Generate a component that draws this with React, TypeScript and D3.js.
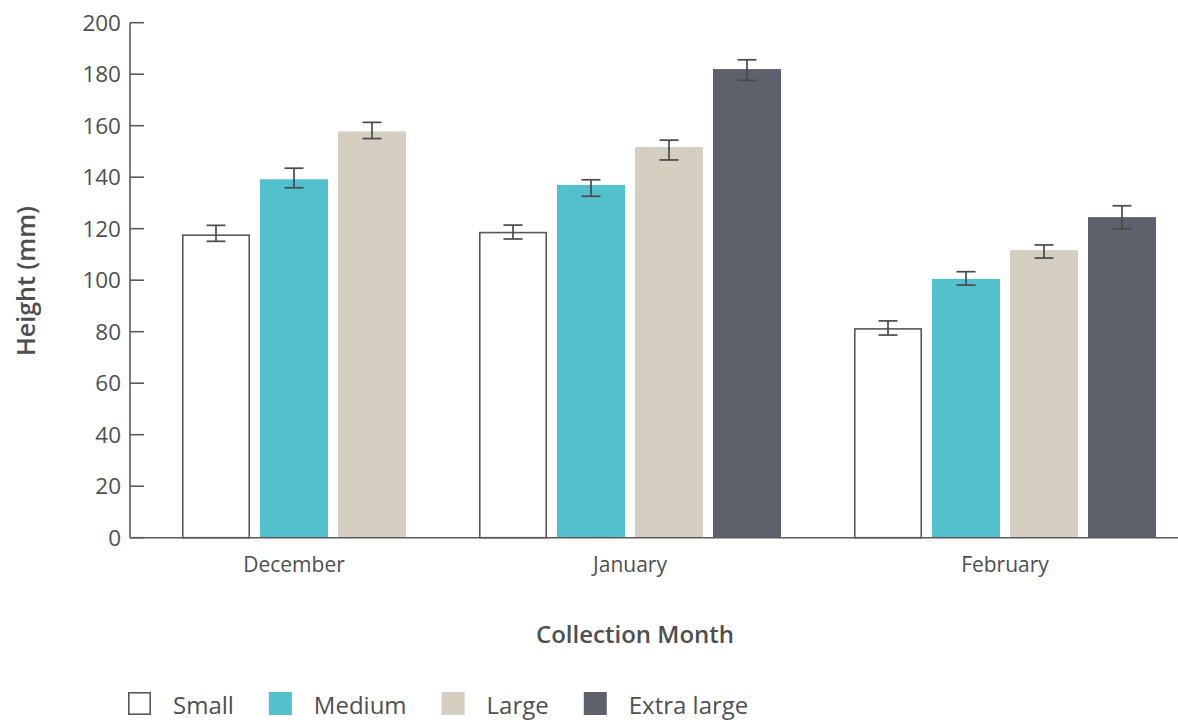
import React, { useEffect, useRef } from "react";
import * as d3 from "d3";

const months = ["December", "January", "February"];
const seriesNames = ["Small", "Medium", "Large", "Extra large"];

const smallValues = [117.8, 118.8, 81.4];
const mediumValues = [139.2, 137.0, 100.5];
const largeValues = [157.8, 151.7, 111.7];
const extraLargeValues: (number | null)[] = [null, 182.0, 124.5];

const smallErrHigh = [121.3, 121.4, 84.2];
const smallErrLow = [115.1, 116.0, 78.7];
const mediumErrHigh = [143.5, 139.0, 103.3];
const mediumErrLow = [135.9, 132.6, 98.1];
const largeErrHigh = [161.3, 154.4, 113.7];
const largeErrLow = [155.0, 146.7, 108.6];
const extraLargeErrHigh: (number | null)[] = [null, 185.6, 128.9];
const extraLargeErrLow: (number | null)[] = [null, 177.6, 120.0];

const yTicks = [0, 20, 40, 60, 80, 100, 120, 140, 160, 180, 200];

const seriesFill = ["#ffffff", "#52C1CD", "#D5CFC2", "#5D616C"];
const seriesStroke = ["#595959", "none", "none", "none"];

const W = 1178;
const H = 722;
const FONT = "'Open Sans', 'Noto Sans', sans-serif";
const TEXT = "#4f4f4f";
const AXIS = "#5a5a5a";

export default function App() {
  const ref = useRef<SVGSVGElement | null>(null);

  useEffect(() => {
    const svg = d3.select(ref.current);
    svg.selectAll("*").remove();

    const values = [smallValues, mediumValues, largeValues, extraLargeValues];
    const highs = [smallErrHigh, mediumErrHigh, largeErrHigh, extraLargeErrHigh];
    const lows = [smallErrLow, mediumErrLow, largeErrLow, extraLargeErrLow];

    // layout: bar step = 1 unit, bar width and group gap in units
    const barW = 68 / 78;
    const groupGap = 73 / 78;
    type Bar = { m: number; s: number; v: number; hi: number; lo: number; pos: number };
    const bars: Bar[] = [];
    const groupSpan: { start: number; end: number }[] = [];
    let pos = 0;
    months.forEach((_, mi) => {
      const start = pos;
      let last = pos;
      seriesNames.forEach((_, si) => {
        const v = values[si][mi];
        if (v == null) return;
        bars.push({ m: mi, s: si, v, hi: highs[si][mi] as number, lo: lows[si][mi] as number, pos });
        last = pos;
        pos += 1;
      });
      groupSpan.push({ start, end: last + barW });
      pos = last + barW + groupGap;
    });
    const totalUnits = groupSpan[groupSpan.length - 1].end;

    const axisX = 130;
    const x = d3.scaleLinear().domain([0, totalUnits]).range([182, 1156]);
    const y = d3.scaleLinear().domain([0, 200]).range([537.7, 22.7]);
    const bw = x(barW) - x(0);

    // axes
    const g = svg.append("g");
    g.append("line")
      .attr("x1", axisX).attr("x2", axisX)
      .attr("y1", y(200)).attr("y2", y(0))
      .attr("stroke", AXIS).attr("stroke-width", 1.6);
    yTicks.forEach((t) => {
      g.append("line")
        .attr("x1", axisX).attr("x2", axisX + 14)
        .attr("y1", y(t)).attr("y2", y(t))
        .attr("stroke", AXIS).attr("stroke-width", 1.6);
      g.append("text")
        .attr("x", 121).attr("y", y(t)).attr("dy", "0.36em")
        .attr("text-anchor", "end")
        .attr("font-family", FONT).attr("font-size", 22.5)
        .attr("fill", TEXT)
        .text(String(t));
    });

    // bars
    bars.forEach((b) => {
      const x0 = x(b.pos);
      const top = y(b.v);
      if (b.s === 0) {
        g.append("rect")
          .attr("x", x0 + 0.8).attr("y", top + 0.8)
          .attr("width", bw - 1.6).attr("height", y(0) - top - 0.8)
          .attr("fill", seriesFill[0]).attr("stroke", seriesStroke[0]).attr("stroke-width", 1.6);
      } else {
        g.append("rect")
          .attr("x", x0).attr("y", top)
          .attr("width", bw).attr("height", y(0) - top)
          .attr("fill", seriesFill[b.s]);
      }
    });

    // x axis line (drawn over bar bottoms)
    g.append("line")
      .attr("x1", axisX).attr("x2", W)
      .attr("y1", y(0)).attr("y2", y(0))
      .attr("stroke", AXIS).attr("stroke-width", 1.6);

    // error bars
    bars.forEach((b) => {
      const cx = x(b.pos) + bw / 2;
      const cap = 9.5;
      const eg = g.append("g").attr("stroke", "#4a4a4a").attr("stroke-width", 1.7);
      eg.append("line").attr("x1", cx).attr("x2", cx).attr("y1", y(b.hi)).attr("y2", y(b.lo));
      eg.append("line").attr("x1", cx - cap).attr("x2", cx + cap).attr("y1", y(b.hi)).attr("y2", y(b.hi));
      eg.append("line").attr("x1", cx - cap).attr("x2", cx + cap).attr("y1", y(b.lo)).attr("y2", y(b.lo));
    });

    // category labels
    months.forEach((m, mi) => {
      const sp = groupSpan[mi];
      g.append("text")
        .attr("x", (x(sp.start) + x(sp.end)) / 2).attr("y", 572)
        .attr("text-anchor", "middle")
        .attr("font-family", FONT).attr("font-size", 21)
        .attr("fill", TEXT)
        .text(m);
    });

    // axis titles
    g.append("text")
      .attr("x", 635).attr("y", 643)
      .attr("text-anchor", "middle")
      .attr("font-family", FONT).attr("font-size", 24).attr("font-weight", 600)
      .attr("fill", TEXT)
      .text("Collection Month");
    g.append("text")
      .attr("transform", `translate(35,281) rotate(-90)`)
      .attr("text-anchor", "middle")
      .attr("font-family", FONT).attr("font-size", 25).attr("font-weight", 600)
      .attr("fill", TEXT)
      .text("Height (mm)");

    // legend
    let lx = 128;
    const box = 23;
    seriesNames.forEach((name, si) => {
      const item = g.append("g");
      if (si === 0) {
        item.append("rect")
          .attr("x", lx + 0.8).attr("y", 692 + 0.8)
          .attr("width", box - 1.6).attr("height", box - 1.6)
          .attr("fill", "#fff").attr("stroke", "#595959").attr("stroke-width", 1.6);
      } else {
        item.append("rect")
          .attr("x", lx).attr("y", 692)
          .attr("width", box).attr("height", box)
          .attr("fill", seriesFill[si]);
      }
      const t = item.append("text")
        .attr("x", lx + 45).attr("y", 714)
        .attr("font-family", FONT).attr("font-size", 24)
        .attr("fill", TEXT)
        .text(name);
      const tw = (t.node() as SVGTextElement).getComputedTextLength();
      lx = lx + 45 + tw + 35;
    });
  }, []);

  return (
    <svg
      ref={ref}
      width={W}
      height={H}
      style={{ position: "absolute", left: 0, top: 0, background: "#fff" }}
    />
  );
}
